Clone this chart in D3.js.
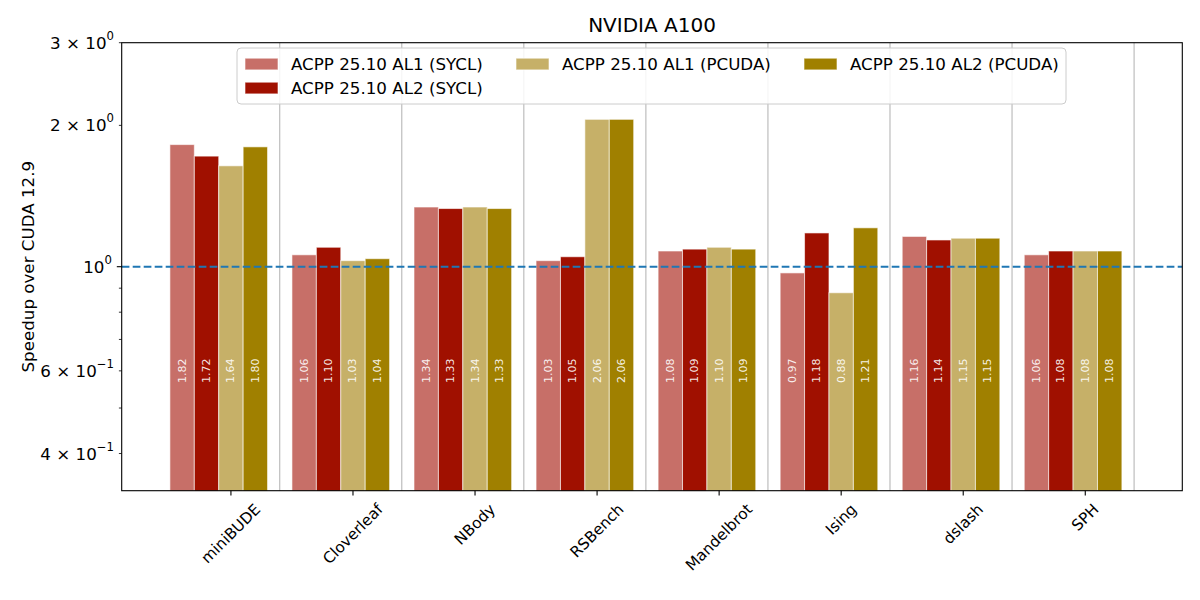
<!DOCTYPE html>
<html>
<head>
<meta charset="utf-8">
<script src="https://cdn.jsdelivr.net/npm/d3@7"></script>
<style>
  body { margin: 0; background: #fff; }
  svg { font-family: "DejaVu Sans", sans-serif; display: block; }
</style>
</head>
<body>
<svg id="chart" width="1200" height="600"></svg>
<script>
// benchmarks and speedups
const benchmarks = ['miniBUDE', 'Cloverleaf', 'NBody', 'RSBench', 'Mandelbrot', 'Ising', 'dslash', 'SPH'];
const seriesNames = ['ACPP 25.10 AL1 (SYCL)', 'ACPP 25.10 AL2 (SYCL)', 'ACPP 25.10 AL1 (PCUDA)', 'ACPP 25.10 AL2 (PCUDA)'];
const seriesColors = ['#c76f68', '#a01000', '#c6b068', '#a08000'];
const al1Sycl  = [1.82, 1.06, 1.34, 1.03, 1.08, 0.97, 1.16, 1.06];
const al2Sycl  = [1.72, 1.10, 1.33, 1.05, 1.09, 1.18, 1.14, 1.08];
const al1Pcuda = [1.64, 1.03, 1.34, 2.06, 1.10, 0.88, 1.15, 1.08];
const al2Pcuda = [1.80, 1.04, 1.33, 2.06, 1.09, 1.21, 1.15, 1.08];
const series = [al1Sycl, al2Sycl, al1Pcuda, al2Pcuda];
const yTicks = [0.4, 0.5, 0.6, 0.7, 0.8, 0.9, 1, 2, 3];
const yTickLabels = { 0.4: ['4 × 10', '−1'], 0.6: ['6 × 10', '−1'], 1: ['10', '0'], 2: ['2 × 10', '0'], 3: ['3 × 10', '0'] };

const L = 121.7, R = 1182.3, T = 42.7, B = 490.7;
const barW = 0.2;

const svg = d3.select('#chart');
const x = d3.scaleLinear().domain([-0.895, 7.795]).range([L, R]);
const y = d3.scaleLog().domain([1 / 3, 3]).range([B, T]);

svg.append('defs').append('clipPath').attr('id', 'plot')
  .append('rect').attr('x', L).attr('y', T).attr('width', R - L).attr('height', B - T);

// group separators
svg.append('g').selectAll('line')
  .data(benchmarks)
  .join('line')
  .attr('x1', (d, i) => x(i + 0.4)).attr('x2', (d, i) => x(i + 0.4))
  .attr('y1', T).attr('y2', B)
  .attr('stroke', '#b0b0b0').attr('stroke-width', 1);

// bars
const plot = svg.append('g').attr('clip-path', 'url(#plot)');
series.forEach((vals, j) => {
  plot.append('g').selectAll('rect')
    .data(vals)
    .join('rect')
    .attr('x', (d, i) => x(i - 0.5 + j * barW))
    .attr('width', x(barW) - x(0))
    .attr('y', d => y(d))
    .attr('height', d => B - y(d) + 2)
    .attr('fill', seriesColors[j])
    .attr('stroke', '#fff').attr('stroke-opacity', 0.6).attr('stroke-width', 1);
});

// value labels inside bars
series.forEach((vals, j) => {
  svg.append('g').selectAll('text')
    .data(vals)
    .join('text')
    .attr('transform', (d, i) => `translate(${x(i - 0.4 + j * barW)},${y(0.6)}) rotate(-90)`)
    .attr('text-anchor', 'middle')
    .attr('dominant-baseline', 'central')
    .attr('font-size', 11)
    .attr('fill', '#fff').attr('fill-opacity', 0.9)
    .text(d => d.toFixed(2));
});

// baseline at 1
svg.append('line')
  .attr('x1', L).attr('x2', R).attr('y1', y(1)).attr('y2', y(1))
  .attr('stroke', '#1f77b4').attr('stroke-width', 2)
  .attr('stroke-dasharray', '7.7 3.3');

// frame
svg.append('rect').attr('x', L).attr('y', T).attr('width', R - L).attr('height', B - T)
  .attr('fill', 'none').attr('stroke', '#000').attr('stroke-width', 1.1);

// x ticks
const xt = svg.append('g');
benchmarks.forEach((name, i) => {
  xt.append('line').attr('x1', x(i)).attr('x2', x(i)).attr('y1', B).attr('y2', B + 4.9)
    .attr('stroke', '#000').attr('stroke-width', 1.1);
  const t = xt.append('text')
    .attr('font-size', 15.3)
    .attr('text-anchor', 'middle')
    .attr('dominant-baseline', 'central')
    .text(name);
  const w = t.node().getComputedTextLength();
  const h = 15.3 * 1.16;
  const half = (w + h) * Math.SQRT1_2 / 2;
  t.attr('transform', `translate(${x(i)},${B + 9.8 + half}) rotate(-45)`);
});

// y ticks
const yt = svg.append('g');
yTicks.forEach(v => {
  const major = v === 1;
  const len = major ? 4.9 : 2.8;
  yt.append('line').attr('x1', L - len).attr('x2', L).attr('y1', y(v)).attr('y2', y(v))
    .attr('stroke', '#000').attr('stroke-width', major ? 1.1 : 0.8);
  const lab = yTickLabels[v];
  if (lab) {
    const t = yt.append('text')
      .attr('x', L - len - 4.9).attr('y', y(v))
      .attr('text-anchor', 'end')
      .attr('dominant-baseline', 'central')
      .attr('font-size', 16.7);
    t.append('tspan').text(lab[0]);
    t.append('tspan').attr('dy', -7).attr('font-size', 11.7).text(lab[1]);
  }
});

// axis label and title
svg.append('text')
  .attr('transform', `translate(28,${(T + B) / 2}) rotate(-90)`)
  .attr('text-anchor', 'middle').attr('dominant-baseline', 'central')
  .attr('font-size', 16.7)
  .text('Speedup over CUDA 12.9');
svg.append('text')
  .attr('x', (L + R) / 2).attr('y', 32)
  .attr('text-anchor', 'middle')
  .attr('font-size', 20)
  .text('NVIDIA A100');

// legend (3 columns, filled column-wise)
const legend = svg.append('g');
legend.append('rect')
  .attr('x', 237).attr('y', 48).attr('width', 829).attr('height', 56).attr('rx', 4)
  .attr('fill', '#fff').attr('fill-opacity', 0.85)
  .attr('stroke', '#ccc').attr('stroke-width', 1);
const colX = [245, 516, 804];
const slots = [[0, 0], [0, 1], [1, 0], [2, 0]];
seriesNames.forEach((name, j) => {
  const cx = colX[slots[j][0]];
  const cy = 64 + slots[j][1] * 24;
  legend.append('rect').attr('x', cx).attr('y', cy - 5.8).attr('width', 33).attr('height', 11.7)
    .attr('fill', seriesColors[j]).attr('stroke', '#fff').attr('stroke-opacity', 0.6);
  legend.append('text').attr('x', cx + 46).attr('y', cy)
    .attr('dominant-baseline', 'central')
    .attr('font-size', 16.7)
    .text(name);
});
</script>
</body>
</html>
